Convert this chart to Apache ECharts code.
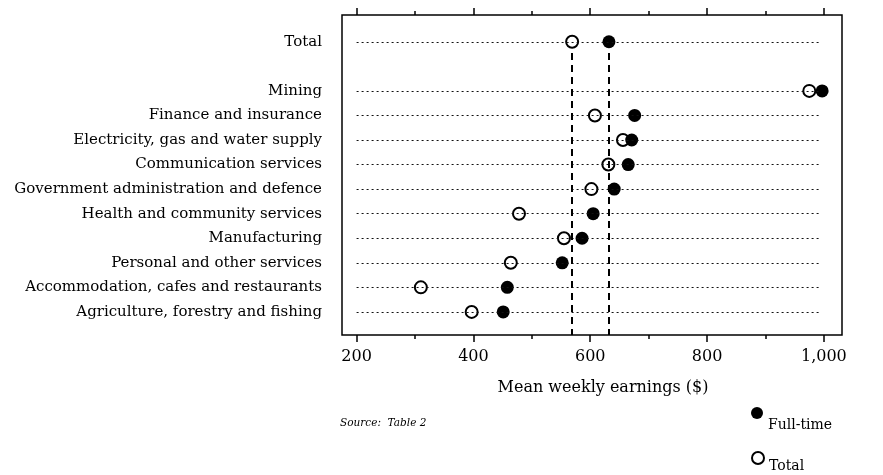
<!DOCTYPE html>
<html lang="en">
<head>
<meta charset="UTF-8">
<title>Mean weekly earnings by industry</title>
<script src="https://cdn.jsdelivr.net/npm/echarts@6/dist/echarts.min.js"></script>
<style>
    html, body { margin: 0; padding: 0; background: #fff; }
    #main { width: 883px; height: 475px; }
</style>
</head>
<body>
<div id="main"></div>
<script>
    // industries, top to bottom
    var categories = ['Total', 'Mining', 'Finance and insurance', 'Electricity, gas and water supply',
        'Communication services', 'Government administration and defence', 'Health and community services',
        'Manufacturing', 'Personal and other services', 'Accommodation, cafes and restaurants',
        'Agriculture, forestry and fishing'];
    var fullTime = [632, 997, 676, 671, 665, 641, 605, 586, 552, 458, 451];
    var total = [569, 975, 608, 656, 631, 602, 478, 555, 464, 310, 397];
    var xLabels = [200, 400, 600, 800, 1000];
    var xMinorTicks = [300, 500, 700, 900];

    var n = categories.length;
    // row slot: "Total" sits apart from the industries, one empty slot below it
    function rowPos(i) { return i === 0 ? n : n - 1 - i; }
    var yMin = -0.94, yMax = 12.09;
    var font = 'DejaVu Serif';

    var rowLines = [];
    var fullData = [], totalData = [], rowLabels = {}, rowValues = [];
    for (var i = 0; i < n; i++) {
        var p = rowPos(i);
        rowLabels[p] = categories[i];
        rowValues.push(p);
        fullData.push([fullTime[i], p]);
        totalData.push([total[i], p]);
        rowLines.push([{coord: [200, p]}, {coord: [995, p]}]);
    }
    // reference lines at the Total row values
    var refLines = [
        [{coord: [total[0], rowPos(0) - 0.46]}, {coord: [total[0], yMin]}],
        [{coord: [fullTime[0], rowPos(0) - 0.46]}, {coord: [fullTime[0], yMin]}]
    ];

    function tickAxis(pos, ticks, len) {
        return {
            type: 'value', position: pos, min: 175, max: 1031,
            axisLine: {show: false, onZero: false}, splitLine: {show: false},
            axisTick: {show: true, customValues: ticks, length: len, lineStyle: {color: '#000', width: 1.5}},
            axisLabel: {show: false}
        };
    }
    // legend text sits a little below its marker
    function legendText(drop) {
        return {
            fontFamily: font, fontSize: 14, color: '#000',
            rich: {t: {fontFamily: font, fontSize: 14, color: '#000', padding: [drop, 0, 0, 0]}}
        };
    }

    var myChart = echarts.init(document.getElementById('main'));
    var option = {
        animation: false,
        title: {
            text: 'Source:  Table 2',
            left: 340, top: 418, padding: 0,
            textStyle: {fontFamily: font, fontStyle: 'italic', fontWeight: 'normal', fontSize: 10.5, color: '#000'}
        },
        legend: [{
            data: ['Full-time'],
            left: 751, top: 407, padding: 0,
            itemWidth: 12, itemHeight: 12,
            formatter: '{t|{name}}',
            textStyle: legendText(24)
        }, {
            data: ['Total'],
            left: 751, top: 451, padding: 0,
            itemWidth: 12, itemHeight: 12,
            formatter: '{t|{name}}',
            textStyle: legendText(16)
        }],
        grid: {
            left: 342, right: 41, top: 15, bottom: 140,
            show: true, borderColor: '#000', borderWidth: 1.5, backgroundColor: 'transparent'
        },
        xAxis: [{
            type: 'value', position: 'bottom', min: 175, max: 1031,
            axisLine: {show: false, onZero: false},
            splitLine: {show: false},
            axisTick: {show: true, customValues: xLabels, length: 7, lineStyle: {color: '#000', width: 1.5}},
            axisLabel: {
                customValues: xLabels, margin: 14,
                fontFamily: font, fontSize: 16, color: '#000',
                formatter: function (v) { return v.toLocaleString('en-US'); }
            },
            name: 'Mean weekly earnings ($)', nameLocation: 'middle', nameGap: 45,
            nameTextStyle: {fontFamily: font, fontSize: 16, color: '#000', padding: [0, 0, 0, 22]}
        },
            tickAxis('bottom', xMinorTicks, 4),
            tickAxis('top', xLabels, 7),
            tickAxis('top', xMinorTicks, 4)
        ],
        yAxis: {
            type: 'value', min: yMin, max: yMax,
            axisLine: {show: false, onZero: false}, splitLine: {show: false},
            axisTick: {show: false},
            axisLabel: {
                customValues: rowValues, margin: 20,
                fontFamily: font, fontSize: 15, color: '#000',
                formatter: function (v) { return rowLabels[v] || ''; }
            }
        },
        series: [{
            name: 'rows',
            type: 'scatter',
            data: [],
            symbolSize: 0,
            silent: true,
            z: 1,
            markLine: {
                silent: true, symbol: 'none', label: {show: false},
                lineStyle: {color: '#111', width: 1, type: [2, 3]},
                data: rowLines
            }
        }, {
            name: 'refs',
            type: 'scatter',
            data: [],
            symbolSize: 0,
            silent: true,
            z: 1,
            markLine: {
                silent: true, symbol: 'none', label: {show: false},
                lineStyle: {color: '#000', width: 2, type: [7, 5]},
                data: refLines
            }
        }, {
            name: 'Total',
            type: 'scatter',
            data: totalData,
            symbol: 'circle',
            symbolSize: 12,
            z: 3,
            itemStyle: {color: '#fff', borderColor: '#000', borderWidth: 2, opacity: 1}
        }, {
            name: 'Full-time',
            type: 'scatter',
            data: fullData,
            symbol: 'circle',
            symbolSize: 13,
            z: 4,
            itemStyle: {color: '#000', opacity: 1}
        }]
    };
    myChart.setOption(option);
</script>
</body>
</html>
